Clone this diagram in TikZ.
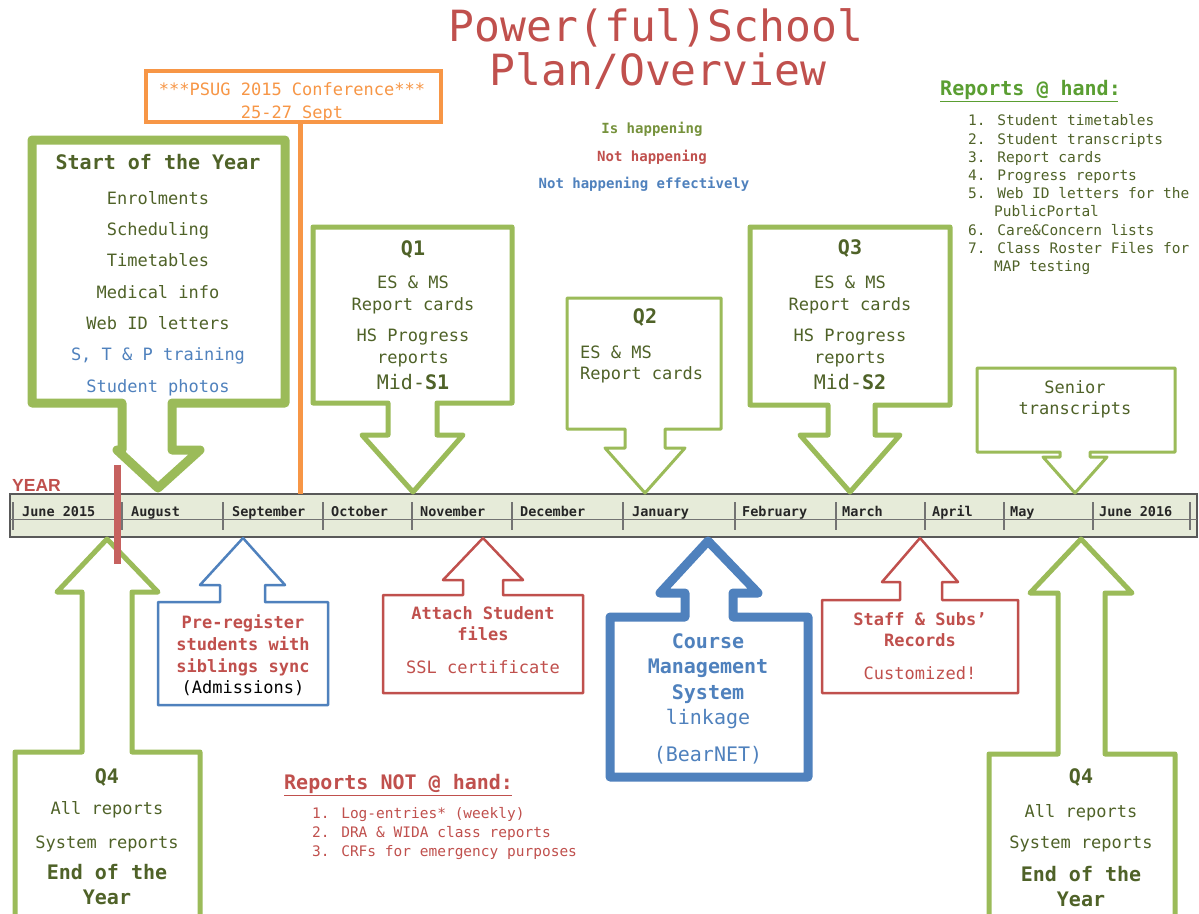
\documentclass[tikz,border=0pt]{standalone}
\usepackage{fontspec}
\setmainfont{DejaVu Sans Mono}
\newfontfamily\yearfont{Liberation Sans}
\definecolor{cgreen}{HTML}{9BBB59}
\definecolor{cdark}{HTML}{4F6228}
\definecolor{clegg}{HTML}{76923C}
\definecolor{chand}{HTML}{5A9E32}
\definecolor{cred}{HTML}{C0504D}
\definecolor{cblue}{HTML}{4F81BD}
\definecolor{corange}{HTML}{F79646}
\definecolor{cbar}{HTML}{E6EBD9}
\tikzset{
  shp/.style={line join=round, fill=white},
  gshape/.style={shp, draw=cgreen},
  rshape/.style={shp, draw=cred, line width=2.5},
  bshape/.style={shp, draw=cblue},
  tx/.style={anchor=mid, inner sep=0pt, yshift=-4pt, text=cdark, font=\fontsize{17}{20}\selectfont},
  txb/.style={tx, font=\fontsize{20}{24}\selectfont\bfseries},
  txw/.style={tx, anchor=mid west},
  month/.style={anchor=mid west, inner sep=0pt, yshift=-3pt, text=black!85, font=\fontsize{13.5}{16}\selectfont\bfseries},
  legend/.style={anchor=mid, inner sep=0pt, yshift=-3pt, font=\fontsize{14}{17}\selectfont\bfseries},
  listx/.style={anchor=mid west, inner sep=0pt, yshift=-3pt, font=\fontsize{14.5}{17}\selectfont},
  head/.style={anchor=mid west, inner sep=0pt, yshift=-4pt, font=\fontsize{20}{24}\selectfont\bfseries},
  ttl/.style={anchor=mid, inner sep=0pt, text=cred, font=\fontsize{43}{50}\selectfont},
}
\newcommand\tline[5]{\node[#1] (#2) at (#3,#4) {#5};}
\begin{document}
\begin{tikzpicture}[x=1pt,y=-1pt]
\useasboundingbox (0,0) rectangle (1199,913);
\fill[white] (0,0) rectangle (1199,913);

% title
\tline{ttl}{t1}{656}{39}{Power(ful)School}
\tline{ttl}{t2}{658}{83}{Plan/Overview}

% legend
\tline{legend,text=clegg}{lg1}{652}{128}{Is happening}
\tline{legend,text=cred}{lg2}{652}{156}{Not happening}
\tline{legend,text=cblue}{lg3}{644}{183}{Not happening effectively}

% reports at hand
\tline{head,text=chand}{rh}{940}{89}{Reports @ hand:}
\draw[chand, line width=1] (940,101) -- (1118,101);
\tline{listx,text=cdark}{rh1}{968}{120}{1. Student timetables}
\tline{listx,text=cdark}{rh2}{968}{139}{2. Student transcripts}
\tline{listx,text=cdark}{rh3}{968}{157}{3. Report cards}
\tline{listx,text=cdark}{rh4}{968}{175}{4. Progress reports}
\tline{listx,text=cdark}{rh5}{968}{193}{5. Web ID letters for the}
\tline{listx,text=cdark}{rh5b}{994}{211}{PublicPortal}
\tline{listx,text=cdark}{rh6}{968}{230}{6. Care\&Concern lists}
\tline{listx,text=cdark}{rh7}{968}{248}{7. Class Roster Files for}
\tline{listx,text=cdark}{rh7b}{994}{266}{MAP testing}

% reports not at hand
\tline{head,text=cred}{rn}{284}{783}{Reports NOT @ hand:}
\draw[cred, line width=1] (284,795) -- (512,795);
\tline{listx,text=cred}{rn1}{312}{813}{1. Log-entries* (weekly)}
\tline{listx,text=cred}{rn2}{312}{832}{2. DRA \& WIDA class reports}
\tline{listx,text=cred}{rn3}{312}{851}{3. CRFs for emergency purposes}

% timeline bar
\draw[draw=black!65, fill=cbar, line width=1.5] (10,494) rectangle (1197,537);
\draw[black!55, line width=0.8] (10,519) -- (1197,519);
\foreach \x in {13,122,223,323,412,512,623,735,836,925,1004,1093,1190}
  \draw[black!55, line width=1.2] (\x,502) -- (\x,530);
\tline{month}{m1}{22}{511}{June 2015}
\tline{month}{m2}{131}{511}{August}
\tline{month}{m3}{232}{511}{September}
\tline{month}{m4}{331}{511}{October}
\tline{month}{m5}{420}{511}{November}
\tline{month}{m6}{520}{511}{December}
\tline{month}{m7}{632}{511}{January}
\tline{month}{m8}{742}{511}{February}
\tline{month}{m9}{842}{511}{March}
\tline{month}{m10}{932}{511}{April}
\tline{month}{m11}{1010}{511}{May}
\tline{month}{m12}{1099}{511}{June 2016}
\node[anchor=base west, inner sep=0pt, text=cred, font=\yearfont\fontsize{17.5}{20}\selectfont\bfseries] (yr) at (12,491) {YEAR};

% PSUG
\tline{tx,text=corange}{ps1}{292}{89}{***PSUG 2015 Conference***}
\tline{tx,text=corange}{ps2}{292}{112}{25-27 Sept}
\draw[corange, line width=3.5] (146,71) rectangle (441,122);
\coordinate (psb) at (300,122);
\coordinate (psbar) at (300,494);
\draw[corange, line width=5] (psb) -- (psbar);

% Start of the Year
\draw[gshape, line width=9] (32,140) -- (285,140) -- (285,403) -- (172,403) -- (172,450) -- (200,450) -- (158,488) -- (117,450) -- (122,450) -- (122,403) -- (32,403) -- cycle;
\tline{txb}{s0}{158}{163}{Start of the Year}
\tline{tx}{s1}{158}{198}{Enrolments}
\tline{tx}{s2}{158}{229}{Scheduling}
\tline{tx}{s3}{158}{260}{Timetables}
\tline{tx}{s4}{158}{292}{Medical info}
\tline{tx}{s5}{158}{323}{Web ID letters}
\tline{tx,text=cblue}{s6}{158}{354}{S, T \& P training}
\tline{tx,text=cblue}{s7}{158}{386}{Student photos}

% Q1
\draw[gshape, line width=5] (313,227) -- (512,227) -- (512,403) -- (437,403) -- (437,435) -- (463,435) -- (413,492) -- (362,435) -- (388,435) -- (388,403) -- (313,403) -- cycle;
\tline{txb}{q1a}{413}{249}{Q1}
\tline{tx}{q1b}{413}{282}{ES \& MS}
\tline{tx}{q1c}{413}{304}{Report cards}
\tline{tx}{q1d}{413}{335}{HS Progress}
\tline{tx}{q1e}{413}{357}{reports}
\tline{tx,font=\fontsize{20}{24}\selectfont}{q1f}{413}{383}{Mid-\textbf{S1}}

% Q2
\draw[gshape, line width=3] (567,298) -- (721,298) -- (721,429) -- (665,429) -- (665,448) -- (685,448) -- (645,493) -- (605,448) -- (625,448) -- (625,429) -- (567,429) -- cycle;
\tline{txb}{q2a}{645}{317}{Q2}
\tline{txw}{q2b}{580}{352}{ES \& MS}
\tline{txw}{q2c}{580}{373}{Report cards}

% Q3
\draw[gshape, line width=5] (750,227) -- (950,227) -- (950,405) -- (875,405) -- (875,435) -- (900,435) -- (850,492) -- (800,435) -- (828,435) -- (828,405) -- (750,405) -- cycle;
\tline{txb}{q3a}{850}{248}{Q3}
\tline{tx}{q3b}{850}{282}{ES \& MS}
\tline{tx}{q3c}{850}{304}{Report cards}
\tline{tx}{q3d}{850}{335}{HS Progress}
\tline{tx}{q3e}{850}{357}{reports}
\tline{tx,font=\fontsize{20}{24}\selectfont}{q3f}{850}{383}{Mid-\textbf{S2}}

% Senior transcripts
\draw[gshape, line width=3] (977,368) -- (1175,368) -- (1175,452) -- (1090,452) -- (1090,457) -- (1107,457) -- (1075,493) -- (1043,457) -- (1060,457) -- (1060,452) -- (977,452) -- cycle;
\tline{tx}{sn1}{1075}{387}{Senior}
\tline{tx}{sn2}{1075}{408}{transcripts}

% Q4 left
\draw[gshape, line width=5] (15,925) -- (15,752) -- (82,752) -- (82,592) -- (57,592) -- (107,539) -- (158,592) -- (132,592) -- (132,752) -- (200,752) -- (200,925);
\tline{txb}{q4a}{107}{777}{Q4}
\tline{tx}{q4b}{107}{808}{All reports}
\tline{tx}{q4c}{107}{842}{System reports}
\tline{txb}{q4d}{107}{873}{End of the}
\tline{txb}{q4e}{107}{898}{Year}

% Q4 right
\draw[gshape, line width=5] (989,925) -- (989,754) -- (1058,754) -- (1058,593) -- (1030,593) -- (1081,539) -- (1132,593) -- (1105,593) -- (1105,754) -- (1175,754) -- (1175,925);
\tline{txb}{q5a}{1081}{777}{Q4}
\tline{tx}{q5b}{1081}{811}{All reports}
\tline{tx}{q5c}{1081}{842}{System reports}
\tline{txb}{q5d}{1081}{875}{End of the}
\tline{txb}{q5e}{1081}{900}{Year}

% Pre-register
\draw[bshape, line width=2.5] (158,705) -- (158,602) -- (220,602) -- (220,585) -- (200,585) -- (243,538) -- (285,585) -- (265,585) -- (265,602) -- (328,602) -- (328,705) -- cycle;
\tline{tx,text=cred,font=\fontsize{17}{20}\selectfont\bfseries}{pr1}{243}{622}{Pre-register}
\tline{tx,text=cred,font=\fontsize{17}{20}\selectfont\bfseries}{pr2}{243}{644}{students with}
\tline{tx,text=cred,font=\fontsize{17}{20}\selectfont\bfseries}{pr3}{243}{666}{siblings sync}
\tline{tx,text=black}{pr4}{243}{687}{(Admissions)}

% Attach
\draw[rshape] (383,693) -- (383,595) -- (463,595) -- (463,580) -- (443,580) -- (483,538) -- (523,580) -- (503,580) -- (503,595) -- (583,595) -- (583,693) -- cycle;
\tline{tx,text=cred,font=\fontsize{17}{20}\selectfont\bfseries}{at1}{483}{613}{Attach Student}
\tline{tx,text=cred,font=\fontsize{17}{20}\selectfont\bfseries}{at2}{483}{634}{files}
\tline{tx,text=cred}{at3}{483}{667}{SSL certificate}

% Course management
\draw[bshape, line width=9] (610,777) -- (610,617) -- (685,617) -- (685,593) -- (660,593) -- (708,541) -- (758,593) -- (733,593) -- (733,617) -- (808,617) -- (808,777) -- cycle;
\tline{tx,text=cblue,font=\fontsize{20}{24}\selectfont\bfseries}{cm1}{708}{642}{Course}
\tline{tx,text=cblue,font=\fontsize{20}{24}\selectfont\bfseries}{cm2}{708}{667}{Management}
\tline{tx,text=cblue,font=\fontsize{20}{24}\selectfont\bfseries}{cm3}{708}{693}{System}
\tline{tx,text=cblue,font=\fontsize{20}{24}\selectfont}{cm4}{708}{718}{linkage}
\tline{tx,text=cblue,font=\fontsize{20}{24}\selectfont}{cm5}{708}{755}{(BearNET)}

% Staff
\draw[rshape] (822,693) -- (822,600) -- (900,600) -- (900,582) -- (882,582) -- (920,538) -- (958,582) -- (942,582) -- (942,600) -- (1018,600) -- (1018,693) -- cycle;
\tline{tx,text=cred,font=\fontsize{17}{20}\selectfont\bfseries}{st1}{920}{619}{Staff \& Subs’}
\tline{tx,text=cred,font=\fontsize{17}{20}\selectfont\bfseries}{st2}{920}{640}{Records}
\tline{tx,text=cred}{st3}{920}{673}{Customized!}

% red year marker
\coordinate (rt) at (117,465);
\coordinate (rb) at (117,564);
\draw[cred!90!white, line width=7] (rt) -- (rb);
\end{tikzpicture}
\end{document}
